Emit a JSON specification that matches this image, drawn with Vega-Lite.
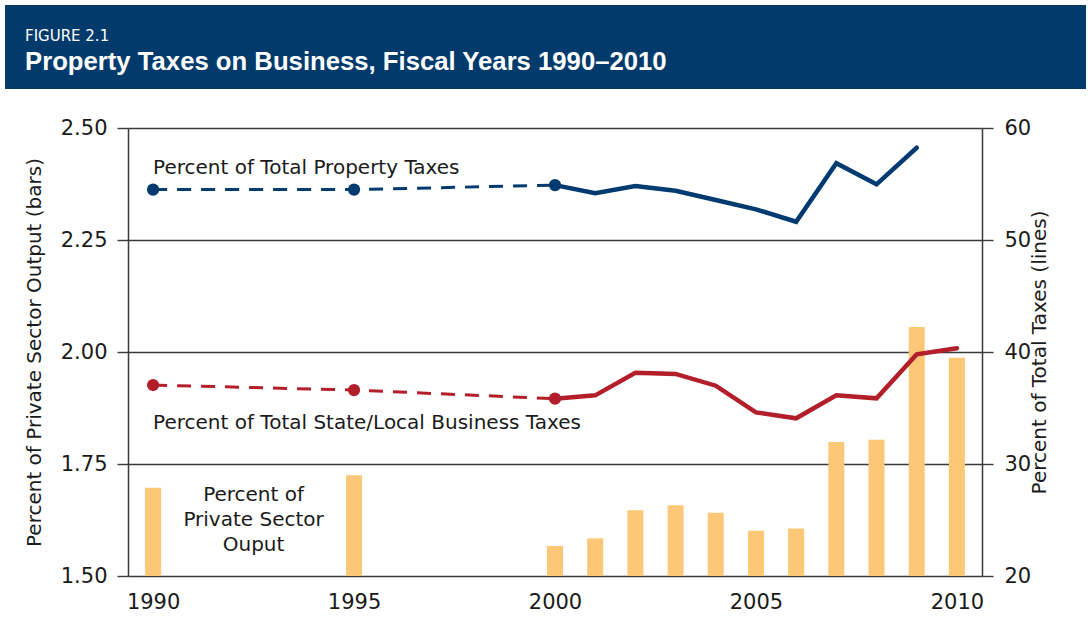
{
  "$schema": "https://vega.github.io/schema/vega-lite/v6.json",
  "padding": {"left": 5, "top": 5, "right": 2, "bottom": 0},
  "background": "white",
  "spacing": 28,
  "config": {
    "font": "DejaVu Sans",
    "view": {"stroke": null}
  },
  "datasets": {
    "bars": [
      {"year": 1990, "output": 1.697},
      {"year": 1995, "output": 1.725},
      {"year": 2000, "output": 1.567},
      {"year": 2001, "output": 1.584},
      {"year": 2002, "output": 1.647},
      {"year": 2003, "output": 1.658},
      {"year": 2004, "output": 1.641},
      {"year": 2005, "output": 1.601},
      {"year": 2006, "output": 1.606},
      {"year": 2007, "output": 1.799},
      {"year": 2008, "output": 1.804},
      {"year": 2009, "output": 2.056},
      {"year": 2010, "output": 1.987}
    ],
    "lines": [
      {"year": 1990, "series": "Property", "pct": 54.5},
      {"year": 1995, "series": "Property", "pct": 54.5},
      {"year": 2000, "series": "Property", "pct": 54.9},
      {"year": 2001, "series": "Property", "pct": 54.17},
      {"year": 2002, "series": "Property", "pct": 54.82},
      {"year": 2003, "series": "Property", "pct": 54.4},
      {"year": 2004, "series": "Property", "pct": 53.57},
      {"year": 2005, "series": "Property", "pct": 52.74},
      {"year": 2006, "series": "Property", "pct": 51.63},
      {"year": 2007, "series": "Property", "pct": 56.85},
      {"year": 2008, "series": "Property", "pct": 54.97},
      {"year": 2009, "series": "Property", "pct": 58.24},
      {"year": 1990, "series": "Business", "pct": 37.05},
      {"year": 1995, "series": "Business", "pct": 36.6},
      {"year": 2000, "series": "Business", "pct": 35.83},
      {"year": 2001, "series": "Business", "pct": 36.13},
      {"year": 2002, "series": "Business", "pct": 38.15},
      {"year": 2003, "series": "Business", "pct": 38.04},
      {"year": 2004, "series": "Business", "pct": 36.99},
      {"year": 2005, "series": "Business", "pct": 34.61},
      {"year": 2006, "series": "Business", "pct": 34.08},
      {"year": 2007, "series": "Business", "pct": 36.13},
      {"year": 2008, "series": "Business", "pct": 35.86},
      {"year": 2009, "series": "Business", "pct": 39.79},
      {"year": 2010, "series": "Business", "pct": 40.33}
    ],
    "labels": [
      {"label": "Percent of Total Property Taxes"},
      {"label": "Percent of Total State/Local Business Taxes"},
      {"label": "Percent of\nPrivate Sector\nOuput"}
    ]
  },
  "vconcat": [
    {
      "width": 958,
      "height": 84,
      "data": {"values": [{}]},
      "mark": {"type": "rect", "color": "#023b6b"},
      "encoding": {
        "x": {"value": -123},
        "x2": {"value": "width"},
        "y": {"value": 0},
        "y2": {"value": "height"}
      },
      "title": {
        "text": "FIGURE 2.1",
        "subtitle": "Property Taxes on Business, Fiscal Years 1990–2010",
        "anchor": "start",
        "frame": "group",
        "orient": "top",
        "offset": -70,
        "dx": -103,
        "font": "DejaVu Sans",
        "fontSize": 15,
        "fontWeight": "normal",
        "color": "#ffffff",
        "subtitleFont": "Liberation Sans",
        "subtitleFontSize": 25.7,
        "subtitleFontWeight": "bold",
        "subtitleColor": "#ffffff",
        "subtitlePadding": 6
      }
    },
    {
      "width": 854,
      "height": 448,
      "layer": [
        {
          "layer": [
            {
              "data": {"name": "bars"},
              "mark": {"type": "bar", "color": "#fcc776", "size": 16},
              "encoding": {
                "x": {
                  "field": "year",
                  "type": "quantitative",
                  "scale": {"domain": [1989.5, 2010.5], "nice": false, "zero": false},
                  "axis": {
                    "values": [1990, 1995, 2000, 2005, 2010],
                    "format": "d",
                    "title": null,
                    "grid": false,
                    "domain": false,
                    "ticks": false,
                    "tickSize": 0,
                    "labelPadding": 15,
                    "labelFontSize": 21,
                    "labelColor": "#1a1a1a",
                    "labelFont": "DejaVu Sans"
                  }
                },
                "y": {
                  "field": "output",
                  "type": "quantitative",
                  "scale": {"domain": [1.5, 2.5], "zero": false, "nice": false},
                  "axis": {
                    "orient": "left",
                    "values": [1.5, 1.75, 2, 2.25, 2.5],
                    "format": ".2f",
                    "title": "Percent of Private Sector Output (bars)",
                    "grid": true,
                    "gridColor": "#3a3a3a",
                    "gridWidth": 1.4,
                    "gridOpacity": 1,
                    "domain": true,
                    "domainColor": "#3a3a3a",
                    "domainWidth": 1.5,
                    "tickSize": 11,
                    "tickColor": "#3a3a3a",
                    "tickWidth": 1.4,
                    "labelPadding": 10,
                    "labelFontSize": 21,
                    "labelColor": "#1a1a1a",
                    "labelFont": "DejaVu Sans",
                    "titleFont": "DejaVu Sans",
                    "titleFontSize": 20,
                    "titleFontWeight": "normal",
                    "titleColor": "#1a1a1a",
                    "titlePadding": 16
                  }
                },
                "y2": {"datum": 1.5}
              }
            },
            {
              "data": {"name": "labels"},
              "transform": [{"filter": "datum.label == 'Percent of Total Property Taxes'"}],
              "mark": {"type": "text", "align": "left", "baseline": "middle", "fontSize": 20, "fill": "#1a1a1a", "font": "DejaVu Sans"},
              "encoding": {
                "x": {"datum": 1990, "type": "quantitative"},
                "y": {"datum": 2.411, "type": "quantitative"},
                "text": {"field": "label", "type": "nominal"}
              }
            },
            {
              "data": {"name": "labels"},
              "transform": [{"filter": "datum.label == 'Percent of Total State/Local Business Taxes'"}],
              "mark": {"type": "text", "align": "left", "baseline": "middle", "fontSize": 20, "fill": "#1a1a1a", "font": "DejaVu Sans"},
              "encoding": {
                "x": {"datum": 1990, "type": "quantitative"},
                "y": {"datum": 1.8415, "type": "quantitative"},
                "text": {"field": "label", "type": "nominal"}
              }
            },
            {
              "data": {"name": "labels"},
              "transform": [{"filter": "indexof(datum.label, 'Ouput') >= 0"}],
              "mark": {"type": "text", "align": "center", "baseline": "middle", "fontSize": 20, "lineHeight": 25, "lineBreak": "\n", "fill": "#1a1a1a", "font": "DejaVu Sans"},
              "encoding": {
                "x": {"datum": 1992.5, "type": "quantitative"},
                "y": {"datum": 1.681, "type": "quantitative"},
                "text": {"field": "label", "type": "nominal"}
              }
            }
          ]
        },
        {
          "data": {"name": "lines"},
          "encoding": {
            "x": {"field": "year", "type": "quantitative"},
            "y": {
              "field": "pct",
              "type": "quantitative",
              "scale": {"domain": [20, 60], "zero": false, "nice": false},
              "axis": {
                "orient": "right",
                "values": [20, 30, 40, 50, 60],
                "title": "Percent of Total Taxes (lines)",
                "titleAngle": -90,
                "grid": false,
                "domain": true,
                "domainColor": "#3a3a3a",
                "domainWidth": 1.5,
                "tickSize": 11,
                "tickColor": "#3a3a3a",
                "tickWidth": 1.4,
                "labelPadding": 11,
                "labelFontSize": 21,
                "labelColor": "#1a1a1a",
                "labelFont": "DejaVu Sans",
                "titleFont": "DejaVu Sans",
                "titleFontSize": 20,
                "titleFontWeight": "normal",
                "titleColor": "#1a1a1a",
                "titlePadding": 19
              }
            },
            "color": {
              "field": "series",
              "type": "nominal",
              "scale": {"domain": ["Property", "Business"], "range": ["#003a70", "#b31e2b"]},
              "legend": null
            }
          },
          "layer": [
            {
              "transform": [{"filter": "datum.year <= 2000"}],
              "mark": {"type": "line", "strokeWidth": 3, "strokeDash": [14, 10]}
            },
            {
              "transform": [{"filter": "datum.year >= 2000"}],
              "mark": {"type": "line", "strokeWidth": 4.5, "strokeCap": "round", "strokeJoin": "miter"}
            },
            {
              "transform": [{"filter": "datum.year <= 2000"}],
              "mark": {"type": "circle", "size": 150, "opacity": 1}
            }
          ]
        }
      ],
      "resolve": {"scale": {"y": "independent"}}
    }
  ]
}
